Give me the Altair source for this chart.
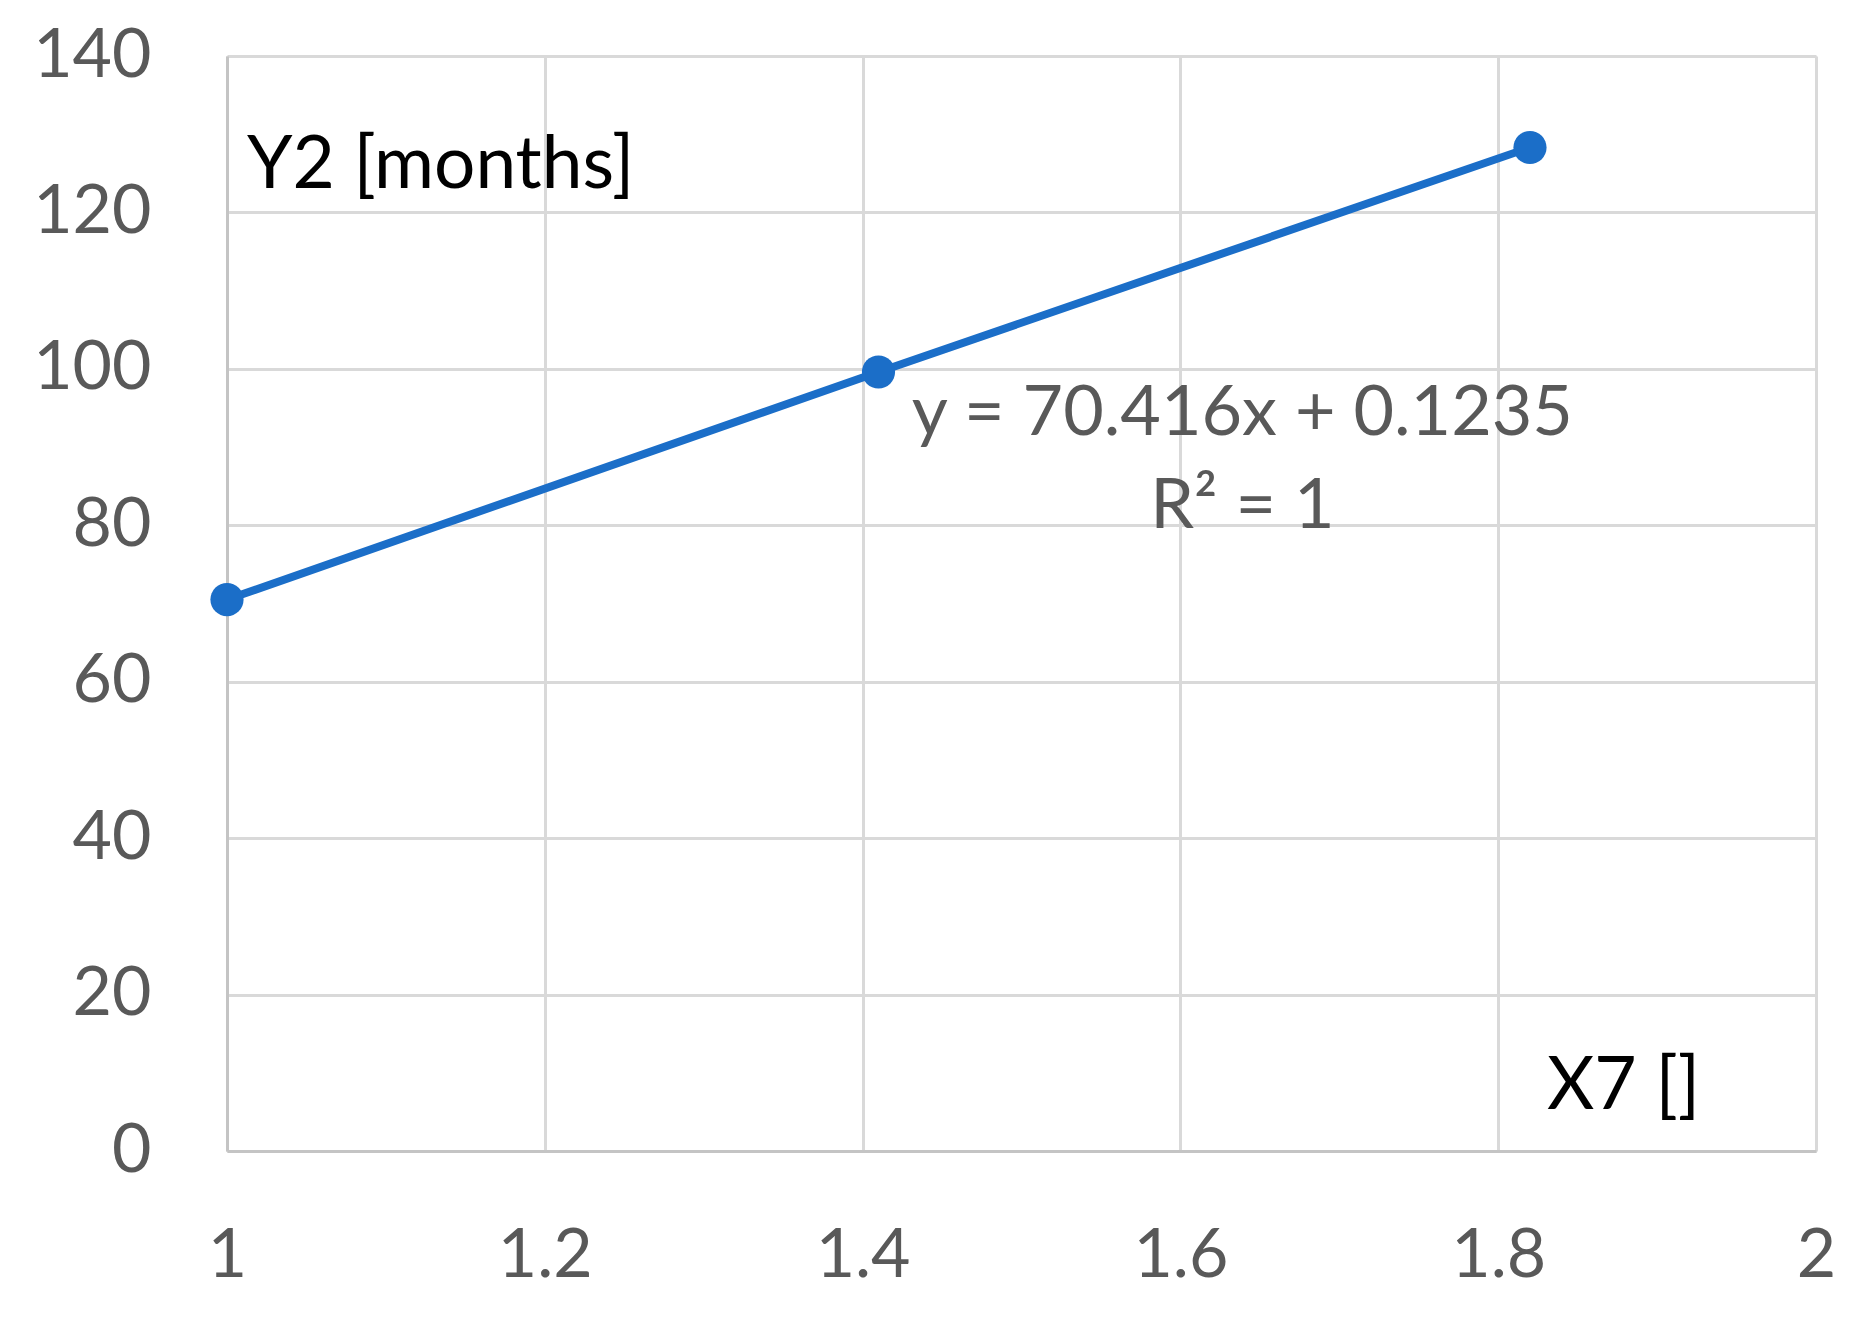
import altair as alt
import pandas as pd

# data
x_vals = [1.0, 1.41, 1.82]
y_vals = [70.5, 99.6, 128.3]

x_ticks = [1, 1.2, 1.4, 1.6, 1.8, 2]
y_ticks = [0, 20, 40, 60, 80, 100, 120, 140]

eq_text = ["y = 70.416x + 0.1235", "R² = 1"]
eq_x = [1.639, 1.639]
eq_y = [91.5, 79.6]

ylab_text = ["Y2 [months]"]
ylab_x = [1.0126]
ylab_y = [123.1]

xlab_text = ["X7 []"]
xlab_x = [1.8307]
xlab_y = [5.4]

FONT = "Lato"
FS_TICK = 68
FS_EQ = 70
FS_LAB = 73

df = pd.DataFrame({"x": x_vals, "y": y_vals})
eq_df = pd.DataFrame({"t": eq_text, "x": eq_x, "y": eq_y})
ylab_df = pd.DataFrame({"t": ylab_text, "x": ylab_x, "y": ylab_y})
xlab_df = pd.DataFrame({"t": xlab_text, "x": xlab_x, "y": xlab_y})

xscale = alt.Scale(domain=[1, 2], nice=False, zero=False)
yscale = alt.Scale(domain=[0, 140], nice=False)

xaxis = alt.Axis(values=x_ticks, grid=True, gridColor="#d9d9d9", gridWidth=3,
                 domainColor="#c4c4c4", domainWidth=3, ticks=False,
                 labelFont=FONT, labelFontSize=FS_TICK, labelColor="#595959",
                 labelPadding=105, labelBaseline="middle", labelFlush=False,
                 labelOverlap=False, title=None, format="~g")
yaxis = alt.Axis(values=y_ticks, grid=True, gridColor="#d9d9d9", gridWidth=3,
                 domainColor="#c4c4c4", domainWidth=3, ticks=False,
                 labelFont=FONT, labelFontSize=FS_TICK, labelColor="#595959",
                 labelPadding=76, labelBaseline="middle", labelFlush=False,
                 labelOverlap=False, title=None)

base = alt.Chart(df)
line = base.mark_line(color="#1b6ec8", strokeWidth=8).encode(
    x=alt.X("x:Q", scale=xscale, axis=xaxis),
    y=alt.Y("y:Q", scale=yscale, axis=yaxis),
)
pts = base.mark_point(filled=True, shape="circle", size=1100, color="#1b6ec8", opacity=1).encode(
    x=alt.X("x:Q", scale=xscale), y=alt.Y("y:Q", scale=yscale)
)

eq = alt.Chart(eq_df).mark_text(font=FONT, fontSize=FS_EQ, color="#595959",
                                align="center", baseline="alphabetic").encode(
    x=alt.X("x:Q", scale=xscale), y=alt.Y("y:Q", scale=yscale), text="t:N")
ylab = alt.Chart(ylab_df).mark_text(font=FONT, fontSize=FS_LAB, color="#000000",
                                    align="left", baseline="alphabetic").encode(
    x=alt.X("x:Q", scale=xscale), y=alt.Y("y:Q", scale=yscale), text="t:N")
xlab = alt.Chart(xlab_df).mark_text(font=FONT, fontSize=FS_LAB, color="#000000",
                                    align="left", baseline="alphabetic").encode(
    x=alt.X("x:Q", scale=xscale), y=alt.Y("y:Q", scale=yscale), text="t:N")

chart = alt.layer(line, pts, eq, ylab, xlab).properties(
    width=1589, height=1095,
    autosize=alt.AutoSizeParams(type="none"),
    padding={"left": 219, "top": 48, "right": 40, "bottom": 160},
).configure_view(stroke=None).configure(background="white")

chart.save("out.html", embed_options={"renderer": "svg", "actions": False})
